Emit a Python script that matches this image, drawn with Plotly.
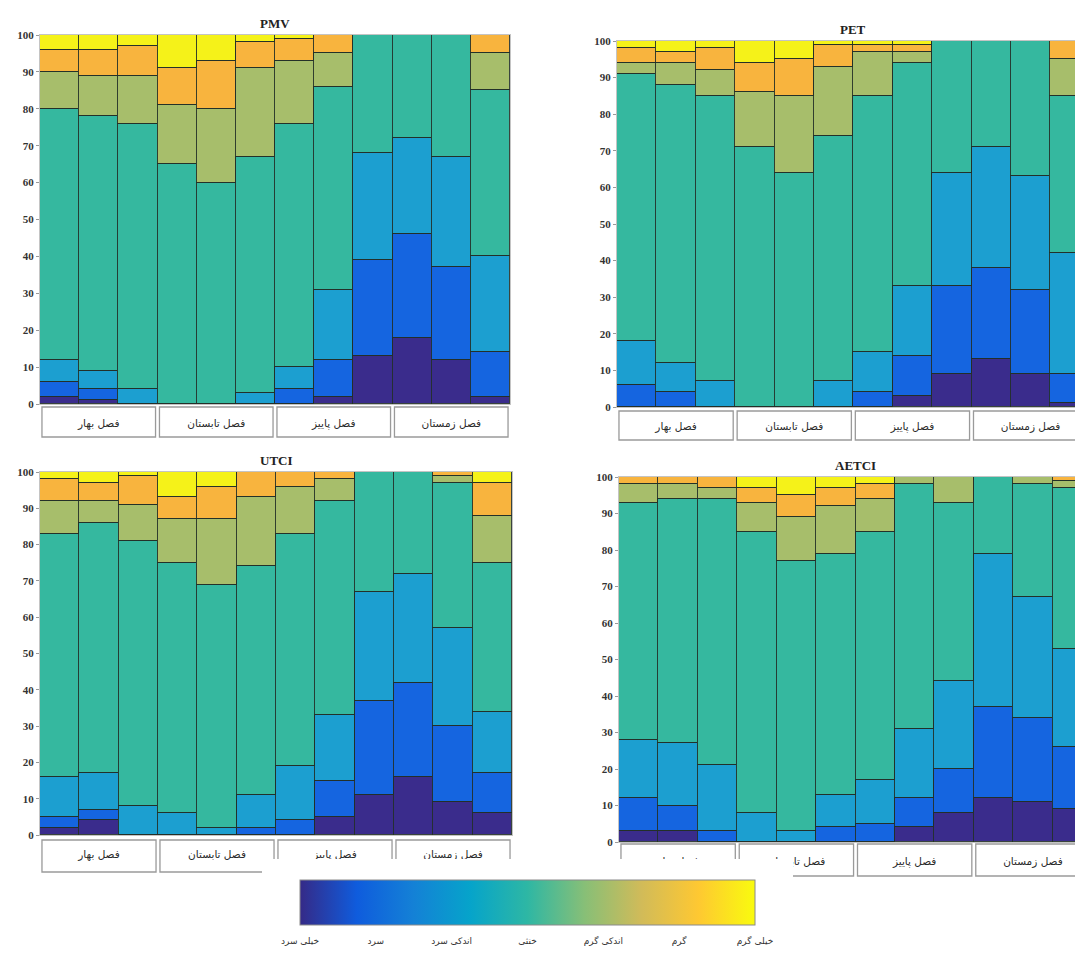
import plotly.graph_objects as go

# ---------------- data ----------------
months = list(range(1, 13))
seasons = ['فصل بهار', 'فصل تابستان', 'فصل پاییز', 'فصل زمستان']
categories = ['خیلی سرد', 'سرد', 'اندکی سرد', 'خنثی', 'اندکی گرم', 'گرم', 'خیلی گرم']
titles = ['PMV', 'PET', 'UTCI', 'AETCI']

# rows: very cold, cold, slightly cold, neutral, slightly warm, warm, very warm
pmv_values = [
    [2, 1, 0, 0, 0, 0, 0, 2, 13, 18, 12, 2],
    [4, 3, 0, 0, 0, 0, 4, 10, 26, 28, 25, 12],
    [6, 5, 4, 0, 0, 3, 6, 19, 29, 26, 30, 26],
    [68, 69, 72, 65, 60, 64, 66, 55, 32, 28, 33, 45],
    [10, 11, 13, 16, 20, 24, 17, 9, 0, 0, 0, 10],
    [6, 7, 8, 10, 13, 7, 6, 5, 0, 0, 0, 5],
    [4, 4, 3, 9, 7, 2, 1, 0, 0, 0, 0, 0],
]
pet_values = [
    [0, 0, 0, 0, 0, 0, 0, 3, 9, 13, 9, 1],
    [6, 4, 0, 0, 0, 0, 4, 11, 24, 25, 23, 8],
    [12, 8, 7, 0, 0, 7, 11, 19, 31, 33, 31, 33],
    [73, 76, 78, 71, 64, 67, 70, 61, 36, 29, 37, 43],
    [3, 6, 7, 15, 21, 19, 12, 3, 0, 0, 0, 10],
    [4, 3, 6, 8, 10, 6, 2, 2, 0, 0, 0, 5],
    [2, 3, 2, 6, 5, 1, 1, 1, 0, 0, 0, 0],
]
utci_values = [
    [2, 4, 0, 0, 0, 0, 0, 5, 11, 16, 9, 6],
    [3, 3, 0, 0, 0, 2, 4, 10, 26, 26, 21, 11],
    [11, 10, 8, 6, 2, 9, 15, 18, 30, 30, 27, 17],
    [67, 69, 73, 69, 67, 63, 64, 59, 33, 28, 40, 41],
    [9, 6, 10, 12, 18, 19, 13, 6, 0, 0, 2, 13],
    [6, 5, 8, 6, 9, 7, 4, 2, 0, 0, 1, 9],
    [2, 3, 1, 7, 4, 0, 0, 0, 0, 0, 0, 3],
]
aetci_values = [
    [3, 3, 0, 0, 0, 0, 0, 4, 8, 12, 11, 9],
    [9, 7, 3, 0, 0, 4, 5, 8, 12, 25, 23, 17],
    [16, 17, 18, 8, 3, 9, 12, 19, 24, 42, 33, 27],
    [65, 67, 73, 77, 74, 66, 68, 67, 49, 21, 31, 44],
    [5, 4, 3, 8, 12, 13, 9, 2, 7, 0, 2, 2],
    [2, 2, 3, 4, 6, 5, 4, 0, 0, 0, 0, 1],
    [0, 0, 0, 3, 5, 3, 2, 0, 0, 0, 0, 0],
]
y_ticks = [0, 10, 20, 30, 40, 50, 60, 70, 80, 90, 100]

# ---------------- styling ----------------
cat_colors = ['#3a2c8c', '#1565e0', '#1c9fd0', '#35b89f', '#a7be6b', '#f8b43e', '#f5f219']
parula = [[0.0, '#352a87'], [0.125, '#0f5cdd'], [0.25, '#1481d6'], [0.375, '#06a4ca'],
          [0.5, '#2eb7a4'], [0.625, '#87bf77'], [0.75, '#d1bb59'], [0.875, '#fec832'],
          [1.0, '#f9fb0e']]
edge = 'rgba(35,48,40,0.9)'
W, H = 1083, 953
OFF = 8  # page body margin of the html page

def px_x(v):
    return (v - OFF) / W

def px_y(v):
    return (H - (v - OFF)) / H

# layout geometry in page pixels: (x_left, x_right, y_top, y_bottom, x_range_max, box_top, box_bottom)
panels = [
    (40, 510, 35, 404, 12.5, 407, 437),
    (617, 1083, 41, 407, 12.33, 411, 440),
    (40, 512, 472, 835, 12.5, 840, 872),
    (619, 1083, 477, 842, 12.27, 844, 876),
]
all_values = [pmv_values, pet_values, utci_values, aetci_values]

fig = go.Figure()
layout = dict(
    width=W, height=H, margin=dict(l=0, r=0, t=0, b=0, autoexpand=False),
    paper_bgcolor='white', plot_bgcolor='white',
    barmode='stack', bargap=0, showlegend=False,
)
shapes = []
annotations = []

for k, (vals, geo) in enumerate(zip(all_values, panels)):
    xl, xr, yt, yb, xmax, bt, bb = geo
    sfx = '' if k == 0 else str(k + 1)
    for ci in range(len(categories)):
        fig.add_trace(go.Bar(
            x=months, y=vals[ci], name=categories[ci], width=1,
            marker=dict(color=cat_colors[ci], line=dict(color=edge, width=1.3)),
            xaxis='x' + sfx, yaxis='y' + sfx, hovertemplate='%{y}<extra></extra>',
        ))
    layout['xaxis' + sfx] = dict(
        domain=[px_x(xl), px_x(xr)], range=[0.5, xmax], anchor='y' + sfx,
        tickmode='array', tickvals=[months[3 * s + 1] for s in range(4)], ticktext=seasons,
        ticks='', ticklabelstandoff=9,
        tickfont=dict(family='DejaVu Sans', size=10.5, color='#2a2a2a'),
        showgrid=False, zeroline=False, showline=True, linecolor='#c4c4c4', mirror=True,
        fixedrange=True, automargin=False,
    )
    layout['yaxis' + sfx] = dict(
        domain=[px_y(yb), px_y(yt)], range=[0, 100], anchor='x' + sfx,
        tickmode='array', tickvals=y_ticks,
        ticks='outside', ticklen=3, tickcolor='#999',
        tickfont=dict(family='Liberation Serif', size=11, color='#333', weight='bold'),
        showgrid=False, zeroline=False, showline=True, linecolor='#c4c4c4', mirror=True,
        fixedrange=True, automargin=False,
    )
    # season boxes
    for s in range(4):
        shapes.append(dict(
            type='rect', xref='x' + sfx, yref='paper',
            x0=months[3 * s] - 0.5 + 0.05, x1=months[3 * s + 2] + 0.5 - 0.05,
            y0=px_y(bb), y1=px_y(bt),
            line=dict(color='#9a9a9a', width=1.3), fillcolor='rgba(0,0,0,0)', layer='below',
        ))
    annotations.append(dict(
        xref='x' + sfx, yref='y' + sfx + ' domain',
        x=sum(months) / len(months), y=1, yanchor='bottom', yshift=2,
        text='<b>' + titles[k] + '</b>', showarrow=False,
        font=dict(family='Liberation Serif', size=13, color='#222'),
    ))

# white panel that holds the colour bar (overlaps lower season boxes)
shapes.append(dict(
    type='rect', xref='paper', yref='paper',
    x0=px_x(262), x1=px_x(793), y0=0, y1=px_y(859),
    fillcolor='white', line=dict(width=0), layer='above',
))

# colour bar
fig.add_trace(go.Scatter(
    x=[1, 1], y=[50, 50], mode='markers', xaxis='x', yaxis='y',
    marker=dict(size=1, opacity=0, color=[0, len(categories) - 1],
                colorscale=parula, cmin=0, cmax=len(categories) - 1, showscale=True,
                colorbar=dict(
                    orientation='h', x=px_x(527.5), xanchor='center',
                    y=px_y(880), yanchor='top', len=455 / W, lenmode='fraction',
                    thickness=45, thicknessmode='pixels', xpad=0, ypad=0,
                    outlinecolor='#8a8a8a', outlinewidth=1,
                    tickmode='array', tickvals=list(range(len(categories))),
                    ticktext=categories, ticks='outside', ticklen=8,
                    tickcolor='rgba(0,0,0,0)',
                    tickfont=dict(family='DejaVu Sans', size=9, color='#333'),
                )),
    hoverinfo='skip', showlegend=False,
))

layout['shapes'] = shapes
layout['annotations'] = annotations
fig.update_layout(**layout)
fig.write_html('out.html')
